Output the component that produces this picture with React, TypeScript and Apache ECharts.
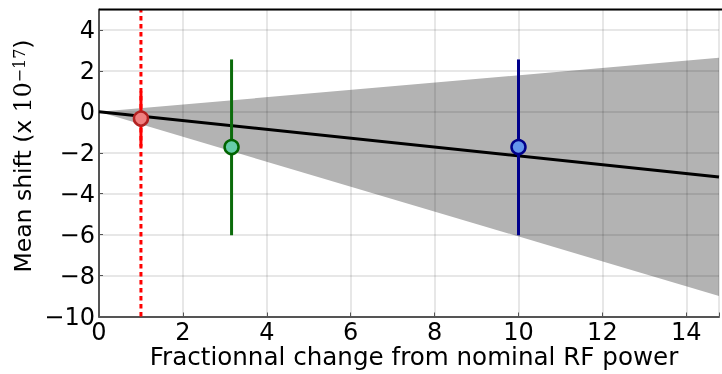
import React, { useEffect, useRef } from "react";
import * as echarts from "echarts";

// ---- data ----
const bandX = [0, 14.78];
const bandUpper = [0, 2.64];
const bandLower = [0, -9.0];
const fitY = [0, -3.18];

const pointNames = ["nominal", "x3.16", "x10"];
const pointX = [1, 3.16, 10];
const pointY = [-0.33, -1.72, -1.72];
const errLow = [-1.7, -6.03, -6.03];
const errHigh = [1.0, 2.56, 2.56];
const faceColors = ["#f08080", "#66cdaa", "#6495ed"];
const edgeColors = ["#b22222", "#006400", "#00008b"];
const barColors = ["#ff0000", "#0b6b0b", "#00008b"];

const refLineX = 1;
const xMin = 0;
const xMax = 14.78;
const yMin = -10;
const yMax = 5;

export default function App() {
  const ref = useRef<HTMLDivElement>(null);
  useEffect(() => {
    document.body.style.margin = "0";
    const chart = echarts.init(ref.current!, null, { renderer: "svg" });
    const font = "DejaVu Sans";

    const series: any[] = [];
    // band
    series.push({
      type: "custom",
      z: 1,
      silent: true,
      data: [[bandX[0], bandLower[0], bandUpper[0], bandX[1], bandLower[1], bandUpper[1]]],
      renderItem: (params: any, api: any) => {
        const x0 = api.value(0), l0 = api.value(1), u0 = api.value(2);
        const x1 = api.value(3), l1 = api.value(4), u1 = api.value(5);
        const pts = [
          api.coord([x0, u0]),
          api.coord([x1, u1]),
          api.coord([x1, l1]),
          api.coord([x0, l0]),
        ];
        return { type: "polygon", shape: { points: pts }, style: { fill: "#b3b3b3" } };
      },
      encode: { x: [0, 3], y: [1, 2, 4, 5] },
    });
    // fit line
    series.push({
      type: "line",
      z: 5,
      data: bandX.map((x, i) => [x, fitY[i]]),
      showSymbol: false,
      lineStyle: { color: "#000", width: 3 },
    });
    // reference dotted line
    series.push({
      type: "line",
      z: 6,
      data: [[refLineX, yMin], [refLineX, yMax]],
      showSymbol: false,
      lineStyle: { color: "#ff0000", width: 3, type: [4.5, 3.5] },
    });
    // error bars
    pointX.forEach((x, i) => {
      series.push({
        type: "line",
        name: pointNames[i] + " err",
        z: 7,
        data: [[x, errLow[i]], [x, errHigh[i]]],
        showSymbol: false,
        lineStyle: { color: barColors[i], width: 3 },
      });
    });
    // points
    pointX.forEach((x, i) => {
      series.push({
        type: "scatter",
        name: pointNames[i],
        z: 8,
        data: [[x, pointY[i]]],
        symbolSize: 14,
        itemStyle: { color: faceColors[i], borderColor: edgeColors[i], borderWidth: 2.5, opacity: 1 },
      });
    });

    chart.setOption({
      animation: false,
      grid: { left: 99, right: 0, top: 9.5, bottom: 57.5 },
      xAxis: {
        type: "value",
        min: xMin,
        max: xMax,
        interval: 2,
        z: 3,
        axisLine: { show: true, onZero: false, lineStyle: { color: "#555", width: 2 } },
        axisTick: { show: true, inside: true, length: 4, lineStyle: { color: "#555" } },
        splitLine: { show: true, lineStyle: { color: "rgba(0,0,0,0.13)", width: 1.5 } },
        axisLabel: {
          margin: 3,
          color: "#000",
          fontFamily: font,
          fontSize: 24,
          formatter: (v: number) => (Number.isInteger(v) && v % 2 === 0 ? String(v) : ""),
        },
      },
      yAxis: {
        type: "value",
        min: yMin,
        max: yMax,
        interval: 2,
        z: 3,
        axisLine: { show: true, onZero: false, lineStyle: { color: "#555", width: 2 } },
        axisTick: { show: true, inside: true, length: 4, lineStyle: { color: "#555" } },
        splitLine: { show: true, lineStyle: { color: "rgba(0,0,0,0.13)", width: 1.5 } },
        axisLabel: {
          margin: 4,
          color: "#000",
          fontFamily: font,
          fontSize: 24,
          formatter: (v: number) =>
            Number.isInteger(v) && v % 2 === 0 && v <= 4 ? String(v).replace("-", "\u2212") : "",
        },
      },
      graphic: [
        {
          type: "line",
          z: 10,
          shape: { x1: 99, y1: 9.5, x2: 722, y2: 9.5 },
          style: { stroke: "#000", lineWidth: 2 },
        },
        {
          type: "text",
          x: 414,
          y: 356.5,
          style: {
            text: "Fractionnal change from nominal RF power",
            font: `24.6px "${font}"`,
            fill: "#000",
            align: "center",
            verticalAlign: "middle",
          },
        },
        {
          type: "text",
          x: 23,
          y: 156,
          rotation: Math.PI / 2,
          style: {
            text: "{a|Mean shift (x }{b|10}{c|\u221217}{a|)}",
            align: "center",
            verticalAlign: "middle",
            fill: "#000",
            rich: {
              a: { fontFamily: font, fontSize: 23.5, verticalAlign: "bottom" },
              b: { fontFamily: "DejaVu Serif", fontSize: 23.5, verticalAlign: "bottom" },
              c: { fontFamily: "DejaVu Serif", fontSize: 16, verticalAlign: "top" },
            },
          },
        },
      ],
      series,
    });
    return () => chart.dispose();
  }, []);
  return (
    <div
      ref={ref}
      style={{ position: "fixed", left: 0, top: 0, width: 722, height: 374 }}
    />
  );
}
